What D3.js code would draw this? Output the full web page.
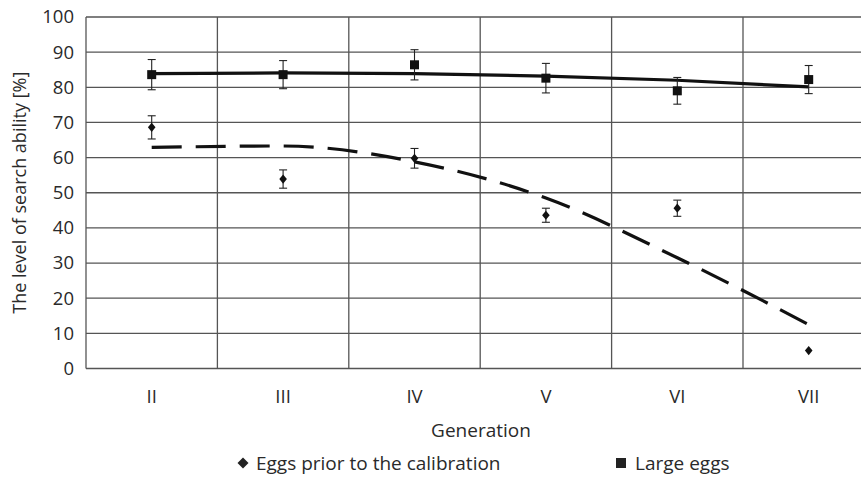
<!DOCTYPE html>
<html>
<head>
<meta charset="utf-8">
<script src="https://cdn.jsdelivr.net/npm/d3@7"></script>
<style>
  body { margin: 0; background: #fff; }
  text { font-family: "Open Sans", sans-serif; fill: #2a2a2a; }
</style>
</head>
<body>
<div id="chart"></div>
<script>
// Datos
var generations = ["II", "III", "IV", "V", "VI", "VII"];
var yTicks = [0, 10, 20, 30, 40, 50, 60, 70, 80, 90, 100];

// Eggs prior to the calibration (rombos)
var priorMean = [68.6, 53.9, 59.8, 43.6, 45.6, 5.1];
var priorErr = [3.3, 2.6, 2.8, 2.0, 2.3, 0];
var priorTrend = [62.9, 63.3, 58.8, 48.5, 31.5, 12.5];

// Large eggs (cuadrados)
var largeMean = [83.6, 83.6, 86.4, 82.6, 79.0, 82.2];
var largeErr = [4.3, 4.0, 4.3, 4.2, 3.8, 4.0];
var largeTrend = [83.9, 84.1, 83.9, 83.2, 82.0, 80.1];

var legendNames = ["Eggs prior to the calibration", "Large eggs"];

function dibuja(contenedor) {
    var width = 861, height = 477;
    var margin = {top: 17, left: 86, bottom: 108};
    var bandW = 131.4;

    var svg = d3.select(contenedor)
        .append("svg")
        .attr("width", width)
        .attr("height", height);

    var x = d3.scaleBand()
        .domain(generations)
        .range([margin.left, margin.left + bandW * generations.length])
        .paddingInner(0).paddingOuter(0);
    var y = d3.scaleLinear()
        .domain([0, 100])
        .range([height - margin.bottom - 0.5, margin.top]);

    var gridColor = "#555";

    // Rejilla horizontal
    svg.append("g").selectAll("line")
        .data(yTicks)
        .enter().append("line")
        .attr("x1", margin.left).attr("x2", width)
        .attr("y1", function(d) { return y(d); })
        .attr("y2", function(d) { return y(d); })
        .style("stroke", gridColor)
        .style("stroke-width", 1.3);

    // Rejilla vertical (limites de cada generacion)
    svg.append("g").selectAll("line")
        .data(generations)
        .enter().append("line")
        .attr("x1", function(d) { return x(d); })
        .attr("x2", function(d) { return x(d); })
        .attr("y1", y(0)).attr("y2", y(100))
        .style("stroke", gridColor)
        .style("stroke-width", 1.3);

    // Eje Y
    var yAxis = svg.append("g")
        .attr("transform", "translate(" + margin.left + ",0)")
        .call(d3.axisLeft(y).tickValues(yTicks).tickSize(0).tickPadding(12));
    yAxis.select(".domain").remove();
    yAxis.selectAll("text").style("font-size", "18.5px");

    // Eje X
    var xAxis = svg.append("g")
        .attr("transform", "translate(0," + y(0) + ")")
        .call(d3.axisBottom(x).tickSize(0).tickPadding(21));
    xAxis.select(".domain").remove();
    xAxis.selectAll("text").style("font-size", "18.5px");

    // Titulos de ejes
    svg.append("text")
        .attr("transform", "translate(26," + ((y(0) + y(100)) / 2) + ") rotate(-90)")
        .style("text-anchor", "middle")
        .style("font-size", "18px")
        .text("The level of search ability [%]");
    svg.append("text")
        .attr("x", 481).attr("y", 437)
        .style("text-anchor", "middle")
        .style("font-size", "19px")
        .text("Generation");

    var cx = function(d, i) { return x(generations[i]) + x.bandwidth() / 2; };

    // Lineas de tendencia
    var trendLine = d3.line()
        .x(function(d, i) { return cx(d, i); })
        .y(function(d) { return y(d); })
        .curve(d3.curveMonotoneX);

    svg.append("path")
        .attr("d", trendLine(largeTrend))
        .style("fill", "none")
        .style("stroke", "#111")
        .style("stroke-width", 3.2);

    svg.append("path")
        .attr("d", trendLine(priorTrend))
        .style("fill", "none")
        .style("stroke", "#111")
        .style("stroke-width", 3.2)
        .style("stroke-dasharray", "30,14");

    // Barras de error
    function errorBars(means, errs) {
        var g = svg.append("g");
        means.forEach(function(m, i) {
            if (!errs[i]) return;
            var px = cx(m, i);
            var lo = y(m - errs[i]), hi = y(m + errs[i]);
            g.append("line").attr("x1", px).attr("x2", px).attr("y1", lo).attr("y2", hi);
            g.append("line").attr("x1", px - 4).attr("x2", px + 4).attr("y1", lo).attr("y2", lo);
            g.append("line").attr("x1", px - 4).attr("x2", px + 4).attr("y1", hi).attr("y2", hi);
        });
        g.selectAll("line").style("stroke", "#222").style("stroke-width", 1.1);
    }
    errorBars(largeMean, largeErr);
    errorBars(priorMean, priorErr);

    // Marcadores
    var diamond = "M0,-4.6L3.8,0L0,4.6L-3.8,0Z";
    svg.append("g").selectAll("path")
        .data(priorMean)
        .enter().append("path")
        .attr("d", diamond)
        .attr("transform", function(d, i) { return "translate(" + cx(d, i) + "," + y(d) + ")"; })
        .style("fill", "#111");

    svg.append("g").selectAll("rect")
        .data(largeMean)
        .enter().append("rect")
        .attr("x", function(d, i) { return cx(d, i) - 4.5; })
        .attr("y", function(d) { return y(d) - 4.5; })
        .attr("width", 9).attr("height", 9)
        .style("fill", "#111");

    // Leyenda
    var leg = svg.append("g");
    leg.append("path")
        .attr("d", "M0,-5.5L5.5,0L0,5.5L-5.5,0Z")
        .attr("transform", "translate(243,463)")
        .style("fill", "#222");
    drawText(leg, 256, 470, legendNames[0]);
    leg.append("rect")
        .attr("x", 616).attr("y", 458).attr("width", 10).attr("height", 10)
        .style("fill", "#222");
    drawText(leg, 635, 470, legendNames[1]);
}

// Funcion auxiliar para texto
function drawText(element, x, y, texto) {
    element.append("text")
        .attr("x", x).attr("y", y)
        .style("font-size", "19px")
        .text(texto);
    return element;
}

dibuja("#chart");
</script>
</body>
</html>
